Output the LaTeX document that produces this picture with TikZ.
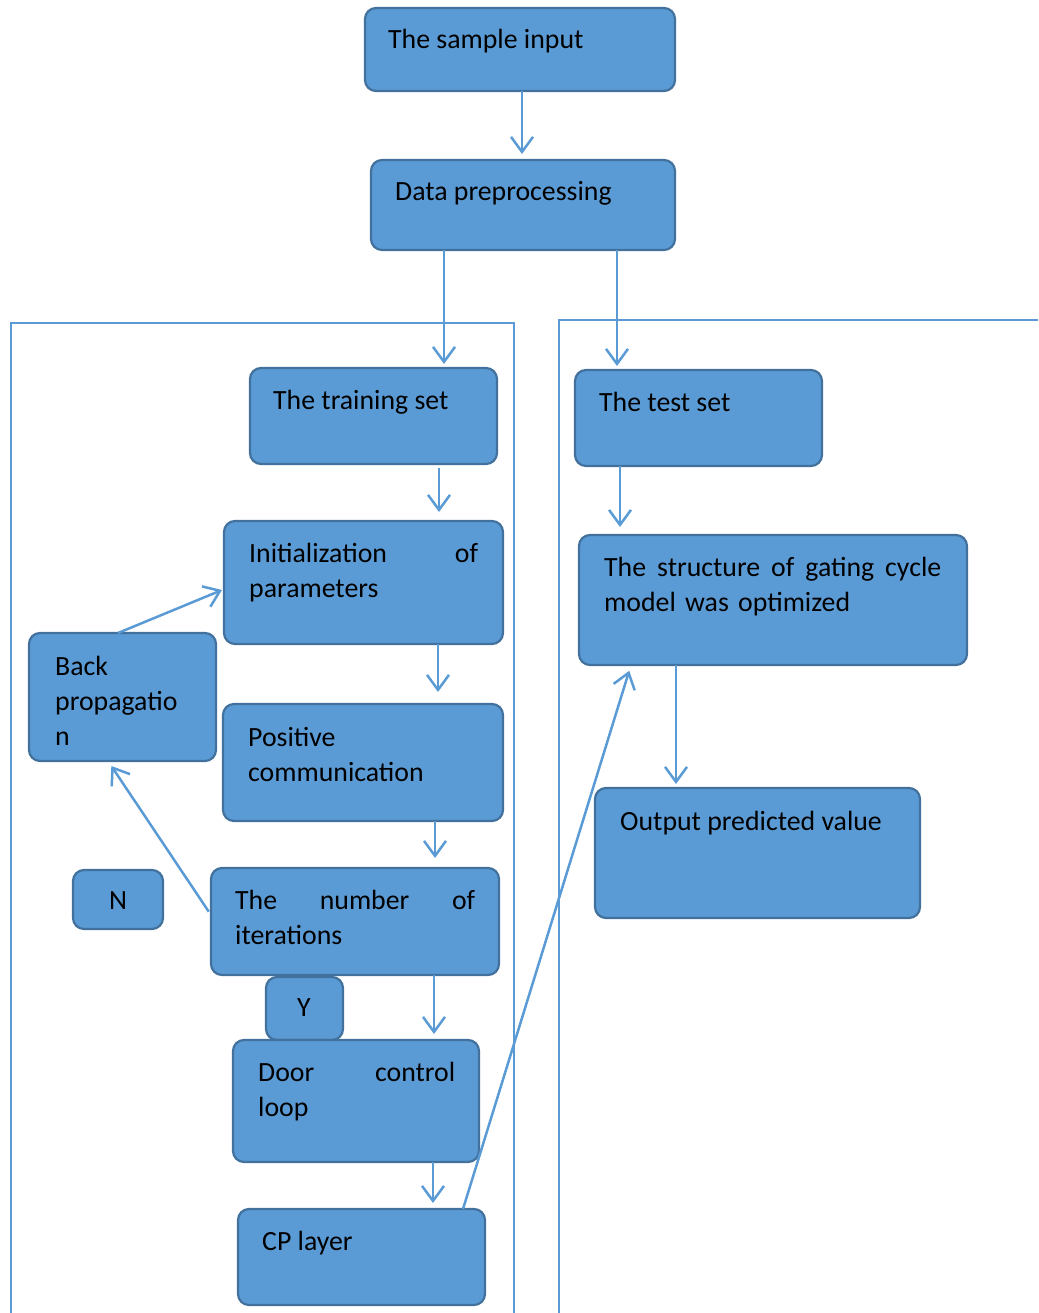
\documentclass[tikz,border=0pt]{standalone}
\usepackage{fontspec}
\setmainfont{Carlito}
\usetikzlibrary{arrows.meta}
\definecolor{bfill}{HTML}{5B9BD5}
\definecolor{bdr}{HTML}{41719C}
\definecolor{ln}{HTML}{5B9BD5}
\newcommand{\bodyfont}{\fontsize{27.8}{35}\selectfont}
\tikzset{
  box/.style={draw=bdr, fill=bfill, line width=2.2pt, rounded corners=11pt, anchor=north west, inner sep=0pt, outer sep=0pt},
  txt/.style={anchor=base west, inner sep=0pt, align=left, font=\bodyfont, text=black},
  ctxt/.style={anchor=base, inner sep=0pt, font=\bodyfont, text=black},
  arr/.style={draw=ln, line width=2.5pt, -{Straight Barb[length=15pt,width=22pt]}},
  frameline/.style={draw=ln, line width=2pt}
}
\begin{document}
\begin{tikzpicture}[x=1pt,y=-1pt]
\useasboundingbox (0,0) rectangle (1038,1313);
% frames
\draw[frameline] (11,1313) -- (11,323) -- (514,323) -- (514,1313);
\draw[frameline] (559,1313) -- (559,320) -- (1038,320);
% boxes
\node[box, minimum width=310pt, minimum height=83pt] (sample) at (365,8) {};
\node[box, minimum width=304pt, minimum height=90pt] (data) at (371,160) {};
\node[box, minimum width=247pt, minimum height=96pt] (train) at (250,368) {};
\node[box, minimum width=279pt, minimum height=123pt] (init) at (224,521) {};
\node[box, minimum width=187pt, minimum height=128pt] (back) at (29,633) {};
\node[box, minimum width=280pt, minimum height=117pt] (pos) at (223,704) {};
\node[box, minimum width=90pt, minimum height=59pt] (nbox) at (73,870) {};
\node[box, minimum width=288pt, minimum height=107pt] (iter) at (211,868) {};
\node[box, minimum width=77pt, minimum height=63pt] (ybox) at (266,977) {};
\node[box, minimum width=246pt, minimum height=122pt] (door) at (233,1040) {};
\node[box, minimum width=247pt, minimum height=96pt] (cp) at (238,1209) {};
\node[box, minimum width=247pt, minimum height=96pt] (test) at (575,370) {};
\node[box, minimum width=388pt, minimum height=130pt] (struct) at (579,535) {};
\node[box, minimum width=325pt, minimum height=130pt] (out) at (595,788) {};
% texts
\node[txt] (sample-t) at (388,49) {The sample input};
\node[txt] (data-t) at (395,201) {Data preprocessing};
\node[txt] (train-t) at (273,409) {The training set};
\node[txt, text width=229pt] (init-t) at (249,562) {Initialization\hfill of\\parameters};
\node[txt, text width=150pt] (back-t) at (55,675) {Back\\propagatio\\n};
\node[txt, text width=240pt] (pos-t) at (248,746) {Positive\\communication};
\node[ctxt] (n-t) at (118,909) {N};
\node[txt, text width=240pt] (iter-t) at (235,909) {The\hfill number\hfill of\\iterations};
\node[ctxt] (y-t) at (304,1016) {Y};
\node[txt, text width=197pt] (door-t) at (258,1081) {Door\hfill control\\loop};
\node[txt] (cp-t) at (262,1250) {CP layer};
\node[txt] (test-t) at (599,411) {The test set};
\node[txt, text width=337pt] (struct-t) at (604,576) {The\hfill structure\hfill of\hfill gating\hfill cycle\\model was optimized};
\node[txt] (out-t) at (620,830) {Output predicted value};
% arrows
\draw[arr, shorten >=6pt] ([xshift=157pt]sample.south west) -- ([xshift=151pt]data.north west);
\draw[arr, shorten >=4pt] ([xshift=73pt]data.south west) -- ([xshift=194pt]train.north west);
\draw[arr, shorten >=4pt] ([xshift=246pt]data.south west) -- ([xshift=42pt]test.north west);
\draw[arr, shorten <=4pt, shorten >=9pt] ([xshift=189pt]train.south west) -- ([xshift=215pt]init.north west);
\draw[arr, shorten >=12pt] ([xshift=214pt]init.south west) -- ([xshift=215pt]pos.north west);
\draw[arr, shorten >=10pt] ([xshift=212pt]pos.south west) -- ([xshift=224pt]iter.north west);
\draw[arr, shorten >=6pt] ([xshift=223pt]iter.south west) -- ([xshift=201pt]door.north west);
\draw[arr, shorten >=6pt] ([xshift=200pt]door.south west) -- ([xshift=195pt]cp.north west);
\draw[arr, shorten >=8pt] ([xshift=45pt]test.south west) -- ([xshift=41pt]struct.north west);
\draw[arr, shorten >=4pt] ([xshift=97pt]struct.south west) -- ([xshift=81pt]out.north west);
\draw[arr] ([xshift=89pt]back.north west) -- ([yshift=-69pt, xshift=-2pt]init.north west);
\draw[arr, shorten <=4pt, shorten >=6pt] ([yshift=-47pt]iter.north west) -- ([xshift=79pt]back.south west);
\draw[arr, shorten >=6pt] ([xshift=225pt]cp.north west) -- ([xshift=52pt]struct.south west);
\end{tikzpicture}
\end{document}
